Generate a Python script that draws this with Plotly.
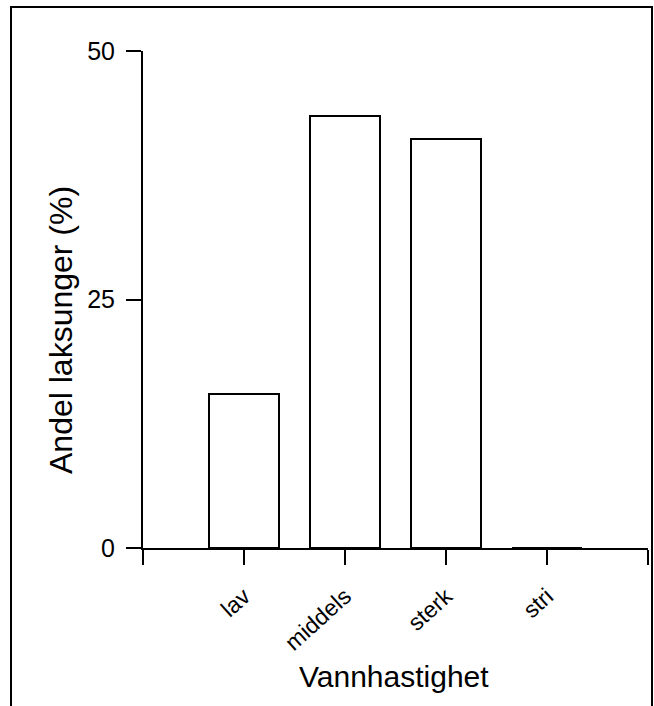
import plotly.graph_objects as go

categories = ["lav", "middels", "sterk", "stri"]
values = [15.5, 43.5, 41.1, 0.0]
tick_positions = [-1, 0, 1, 2, 3, 4]
tick_labels = [""] + categories + [""]
y_ticks = [0, 25, 50]

x_idx = list(range(len(categories)))

fig = go.Figure()
fig.add_trace(go.Bar(
    x=x_idx, y=values, width=0.69,
    marker=dict(color="white", line=dict(color="black", width=2)),
    showlegend=False,
))

FONT = "Liberation Sans, Arial, Helvetica, sans-serif"

# plot area in px: x 143..648, y 51..548
L, R, T, B = 143, 648, 51, 548
W, H = 654, 706
def px_x(p):
    return (p - L) / (R - L)
def px_y(p):
    return (B - p) / (B - T)

fig.update_layout(
    width=W, height=H,
    margin=dict(l=L, r=W - R, t=T, b=H - B, pad=0),
    plot_bgcolor="white", paper_bgcolor="white",
    font=dict(family=FONT, color="black", size=22),
    bargap=0,
    xaxis=dict(
        range=[-1, 4], tickmode="array", tickvals=tick_positions, ticktext=tick_labels,
        tickangle=-42, showline=True, linecolor="black", linewidth=2,
        ticks="outside", ticklen=15, tickwidth=2, tickcolor="black",
        showgrid=False, zeroline=False, tickfont=dict(size=23),
        ticklabelstandoff=9,
    ),
    yaxis=dict(
        range=[0, 50], tickmode="array", tickvals=y_ticks,
        showline=True, linecolor="black", linewidth=2,
        ticks="outside", ticklen=15, tickwidth=2, tickcolor="black",
        showgrid=False, zeroline=False, tickfont=dict(size=25),
        ticklabelstandoff=6,
    ),
    shapes=[dict(
        type="rect", xref="paper", yref="paper",
        x0=px_x(11), x1=px_x(652), y0=px_y(715), y1=px_y(7),
        line=dict(color="black", width=2), fillcolor="rgba(0,0,0,0)", layer="below",
    )],
    annotations=[
        dict(text="Vannhastighet", xref="paper", yref="paper",
             x=px_x(394), y=px_y(676), showarrow=False,
             xanchor="center", yanchor="middle", font=dict(size=30)),
        dict(text="Andel laksunger (%)", xref="paper", yref="paper",
             x=px_x(61), y=px_y(330), showarrow=False, textangle=-90,
             xanchor="center", yanchor="middle", font=dict(size=32)),
    ],
)

fig.write_html("out.html")
